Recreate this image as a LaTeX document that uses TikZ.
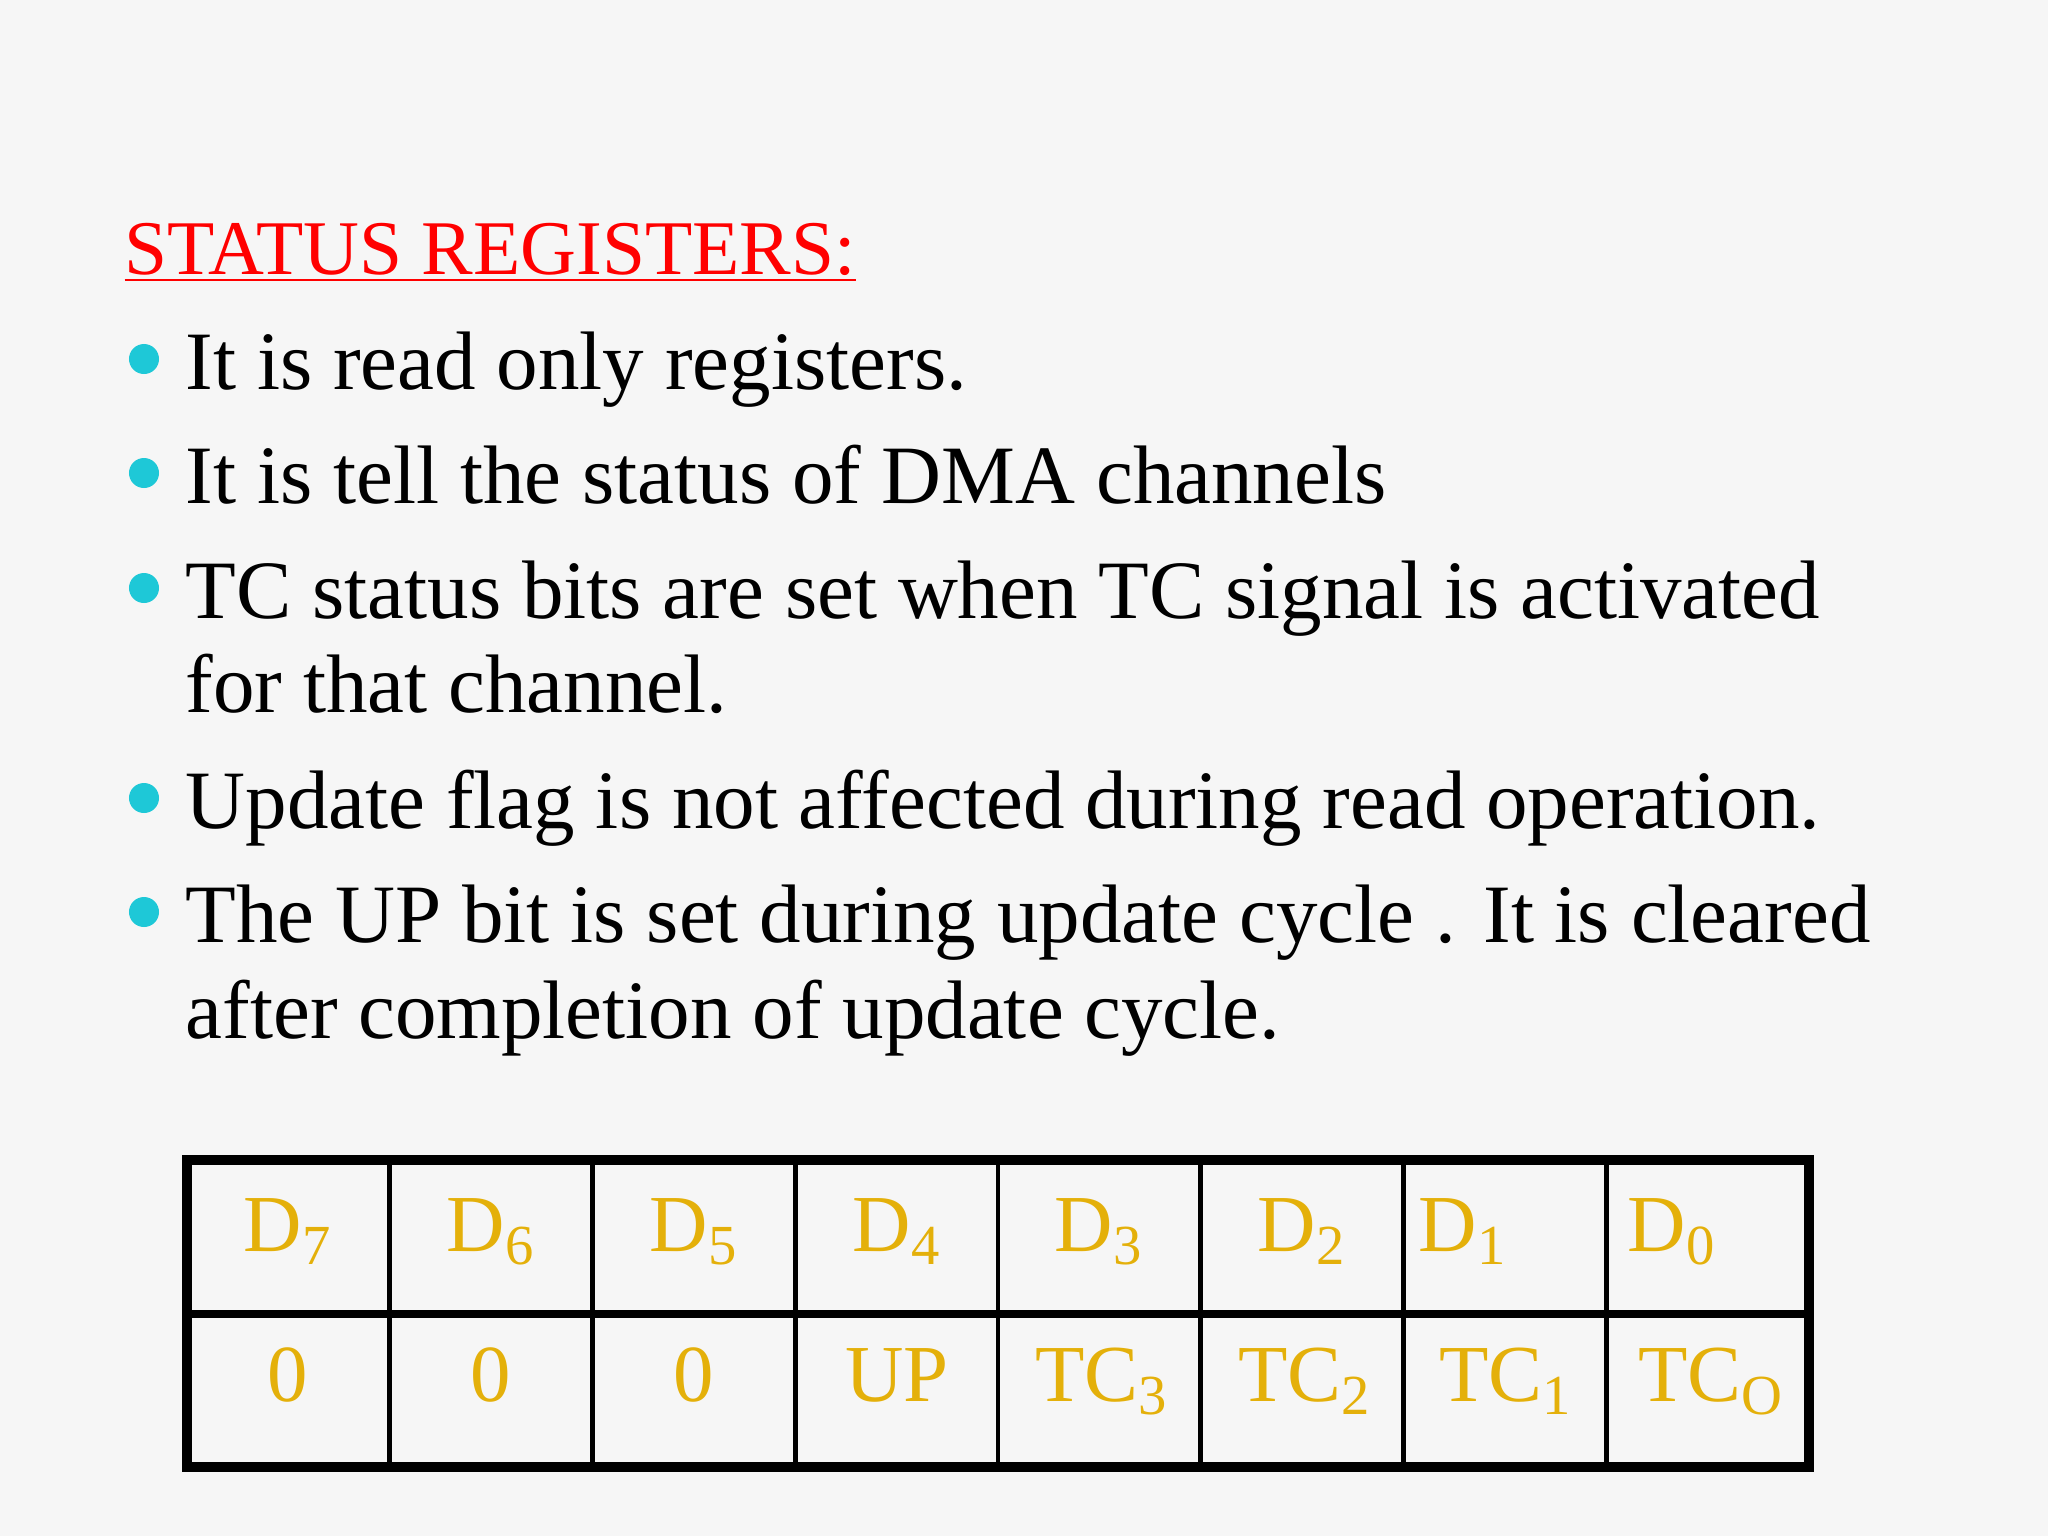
\documentclass[tikz,border=0pt]{standalone}
\usepackage{fontspec}
\setmainfont{Liberation Serif}
\definecolor{gold}{RGB}{228,176,10}
\definecolor{bul}{RGB}{30,200,215}
\begin{document}
\begin{tikzpicture}[x=0.01cm,y=-0.01cm,
  body/.style={anchor=base west,inner sep=0,font=\fontsize{23.6}{29}\selectfont},
  dot/.style={circle,fill=bul,inner sep=0,minimum size=0.3cm},
  cell/.style={anchor=base,inner sep=0,text=gold,font=\fontsize{23}{27}\selectfont}]
\fill[gray!7] (0,0) rectangle (2048,1536);
\useasboundingbox (0,0) rectangle (2048,1536);
\node[anchor=base west,inner sep=0,text=red,font=\fontsize{22}{27}\selectfont] (title) at (124,274) {\underline{STATUS REGISTERS:}};
\foreach \n/\y in {1/389,2/503,3/618,5/828,6/942} \node[dot] (b\n) at (144,{\y-30}) {};
\node[body] (t1) at (185,389) {It is read only registers.};
\node[body] (t2) at (185,503) {It is tell the status of DMA channels};
\node[body] (t3) at (185,618) {TC status bits are set when TC signal is activated};
\node[body] (t4) at (185,712) {for that channel.};
\node[body] (t5) at (185,828) {Update flag is not affected during read operation.};
\node[body] (t6) at (185,942) {The UP bit is set during update cycle . It is cleared};
\node[body] (t7) at (185,1038) {after completion of update cycle.};
\draw[line width=3pt] (187,1160) rectangle (1809,1467);
\draw[line width=2.5pt] (187,1314) -- (1809,1314);
\foreach \i in {1,...,7} \draw[line width=1.3pt] ({187+202.75*\i},1160) -- ({187+202.75*\i},1467);
\node[cell] (d7) at (288,1251) {D\textsubscript{7}};
\node[cell] (d6) at (491,1251) {D\textsubscript{6}};
\node[cell] (d5) at (694,1251) {D\textsubscript{5}};
\node[cell] (d4) at (897,1251) {D\textsubscript{4}};
\node[cell] (d3) at (1099,1251) {D\textsubscript{3}};
\node[cell] (d2) at (1302,1251) {D\textsubscript{2}};
\node[cell] (d1) at (1463,1251) {D\textsubscript{1}};
\node[cell] (d0) at (1672,1251) {D\textsubscript{0}};
\node[cell] (v7) at (288,1401) {0};
\node[cell] (v6) at (491,1401) {0};
\node[cell] (v5) at (694,1401) {0};
\node[cell] (v4) at (897,1401) {UP};
\node[cell] (v3) at (1102,1401) {TC\textsubscript{3}};
\node[cell] (v2) at (1305,1401) {TC\textsubscript{2}};
\node[cell] (v1) at (1506,1401) {TC\textsubscript{1}};
\node[cell] (v0) at (1711,1401) {TC\textsubscript{O}};
\end{tikzpicture}
\end{document}
